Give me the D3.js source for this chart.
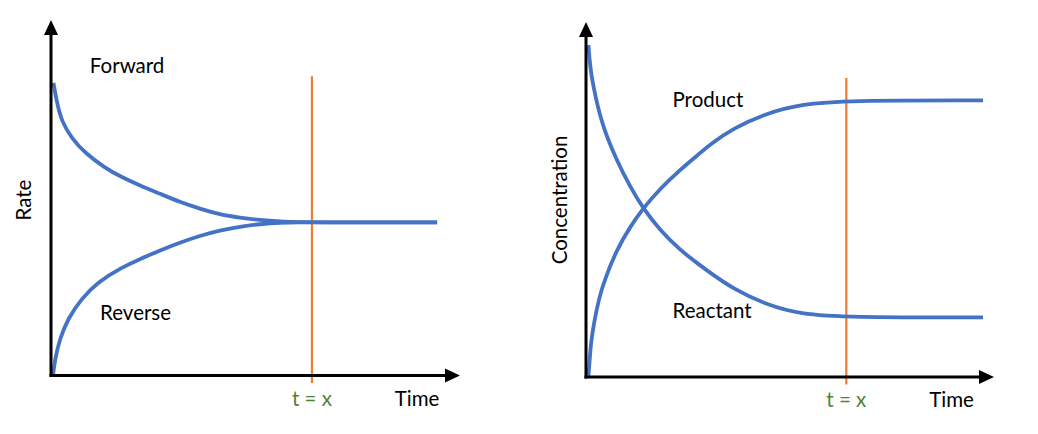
<!DOCTYPE html>
<html>
<head>
<meta charset="utf-8">
<script src="https://cdn.jsdelivr.net/npm/d3@7"></script>
<style>
  html, body { margin: 0; padding: 0; background: #fff; }
  svg text { font-family: Lato, "Open Sans", sans-serif; }
</style>
</head>
<body>
<svg id="chart" width="1038" height="434"></svg>
<script>
// ---- Data (time units 0..10, value units 0..10) ----
const tEquilibrium = 6.38;
const forwardT = [0.06, 0.14, 0.26, 0.51, 0.83, 1.32, 1.69, 2.18, 2.67, 3.15, 3.64, 4.13, 4.62, 5.11, 5.60, 6.09, 6.38, 9.44];
const forwardV = [8.23, 7.70, 7.14, 6.67, 6.26, 5.84, 5.60, 5.34, 5.11, 4.88, 4.69, 4.53, 4.44, 4.37, 4.33, 4.31, 4.31, 4.31];
const reverseT = [0.05, 0.10, 0.22, 0.42, 0.75, 1.16, 1.73, 2.18, 2.67, 3.15, 3.64, 4.13, 4.62, 5.11, 5.60, 6.09, 6.38, 9.44];
const reverseV = [0.00, 0.48, 1.05, 1.61, 2.17, 2.64, 3.04, 3.28, 3.52, 3.74, 3.93, 4.08, 4.19, 4.26, 4.30, 4.31, 4.31, 4.31];
const productT = [0.06, 0.09, 0.12, 0.20, 0.32, 0.47, 0.75, 1.08, 1.40, 1.81, 2.30, 2.79, 3.04, 3.61, 4.43, 5.25, 6.39, 9.73];
const productV = [0.03, 0.48, 0.96, 1.55, 2.23, 2.78, 3.58, 4.23, 4.75, 5.30, 5.83, 6.30, 6.55, 7.01, 7.43, 7.68, 7.79, 7.79];
const reactantT = [0.06, 0.10, 0.22, 0.42, 0.75, 1.08, 1.40, 1.81, 2.30, 2.79, 3.04, 3.61, 4.43, 5.25, 6.39, 9.73];
const reactantV = [9.35, 8.70, 7.94, 7.01, 6.11, 5.36, 4.75, 4.14, 3.58, 3.15, 2.94, 2.48, 2.03, 1.77, 1.68, 1.68];
const yLabels = ["Rate", "Concentration"];
const xLabel = "Time";
const markerLabel = "t = x";
const curveLabelsLeft = ["Forward", "Reverse"];
const curveLabelsRight = ["Product", "Reactant"];

// ---- Panels ----
const svg = d3.select("#chart");
const BLUE = "#4472C4", ORANGE = "#ED7D31", GREEN = "#548235";
const FONT = 20.5;

const panels = [
  {
    xRange: [51, 460], yRange: [375.5, 20],
    series: [
      { t: forwardT, v: forwardV },
      { t: reverseT, v: reverseV }
    ],
    labels: [
      { text: curveLabelsLeft[0], t: 0.95, v: 8.5 },
      { text: curveLabelsLeft[1], t: 1.2, v: 1.55 }
    ],
    yLabel: yLabels[0], yLabelX: 31, markerTop: 8.42, timeX: 8.95
  },
  {
    xRange: [586, 994], yRange: [377, 22],
    series: [
      { t: productT, v: productV },
      { t: reactantT, v: reactantV }
    ],
    labels: [
      { text: curveLabelsRight[0], t: 2.12, v: 7.6 },
      { text: curveLabelsRight[1], t: 2.12, v: 1.65 }
    ],
    yLabel: yLabels[1], yLabelX: 567, markerTop: 8.42, timeX: 8.96
  }
];

panels.forEach(p => {
  const x = d3.scaleLinear().domain([0, 10]).range(p.xRange);
  const y = d3.scaleLinear().domain([0, 10]).range(p.yRange);
  const g = svg.append("g");

  const line = d3.line()
    .x(d => x(d[0])).y(d => y(d[1]))
    .curve(d3.curveBasis);

  // equilibrium marker line
  g.append("line")
    .attr("x1", x(tEquilibrium)).attr("x2", x(tEquilibrium))
    .attr("y1", y(p.markerTop)).attr("y2", y(0) + 7.5)
    .attr("stroke", ORANGE).attr("stroke-width", 2.2);

  // curves
  p.series.forEach(s => {
    const pts = s.t.map((t, i) => [t, s.v[i]]);
    g.append("path")
      .attr("d", line(pts))
      .attr("fill", "none")
      .attr("stroke", BLUE)
      .attr("stroke-width", 3.8);
  });

  // axes (no ticks)
  const xAxis = d3.axisBottom(x).tickValues([]).tickSizeOuter(0);
  const yAxis = d3.axisLeft(y).tickValues([]).tickSizeOuter(0);
  const arrowLen = 15, arrowHalf = 7;
  g.append("g").attr("transform", `translate(0,${y(0)})`).call(xAxis)
    .call(a => a.select(".domain")
      .attr("d", `M${x(0) - 1.5},0H${x(10) - arrowLen + 2}`)
      .attr("stroke", "#000").attr("stroke-width", 3));
  g.append("g").attr("transform", `translate(${x(0)},0)`).call(yAxis)
    .call(a => a.select(".domain")
      .attr("d", `M0,${y(0) + 1.5}V${y(10) + arrowLen - 2}`)
      .attr("stroke", "#000").attr("stroke-width", 3));
  // arrowheads
  g.append("path")
    .attr("d", `M${x(10)},${y(0)}L${x(10) - arrowLen},${y(0) - arrowHalf}L${x(10) - arrowLen},${y(0) + arrowHalf}Z`)
    .attr("fill", "#000");
  g.append("path")
    .attr("d", `M${x(0)},${y(10)}L${x(0) - arrowHalf},${y(10) + arrowLen}L${x(0) + arrowHalf},${y(10) + arrowLen}Z`)
    .attr("fill", "#000");

  // curve labels
  p.labels.forEach(l => {
    g.append("text")
      .attr("x", x(l.t)).attr("y", y(l.v))
      .attr("font-size", FONT).attr("fill", "#000")
      .text(l.text);
  });

  // marker label
  g.append("text")
    .attr("x", x(tEquilibrium)).attr("y", y(0) + 30)
    .attr("text-anchor", "middle")
    .attr("font-size", FONT).attr("fill", GREEN)
    .text(markerLabel);

  // time label
  g.append("text")
    .attr("x", x(p.timeX)).attr("y", y(0) + 30)
    .attr("text-anchor", "middle")
    .attr("font-size", FONT).attr("fill", "#000")
    .text(xLabel);

  // y label
  g.append("text")
    .attr("transform", `translate(${p.yLabelX},200) rotate(-90)`)
    .attr("text-anchor", "middle")
    .attr("font-size", FONT).attr("fill", "#000")
    .text(p.yLabel);
});
</script>
</body>
</html>
